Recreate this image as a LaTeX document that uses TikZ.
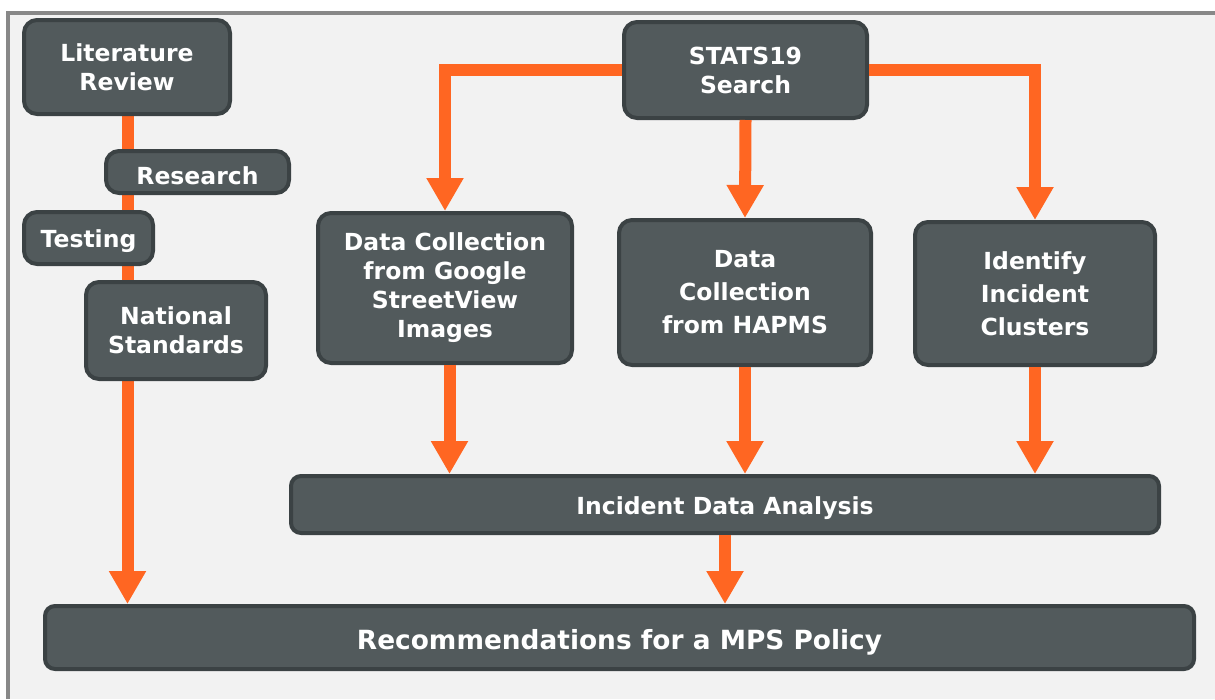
\documentclass[tikz,border=0pt]{standalone}
\usepackage{fontspec}
\setmainfont{DejaVu Sans}
\usetikzlibrary{arrows.meta,backgrounds}
\definecolor{boxfill}{HTML}{525A5C}
\definecolor{boxline}{HTML}{3B4244}
\definecolor{bgfill}{HTML}{F2F2F2}
\definecolor{frame}{HTML}{888888}
\definecolor{flow}{HTML}{FF6622}
\tikzset{
  stepbox/.style={draw=boxline, fill=boxfill, line width=4pt, rounded corners=13pt,
    text=white, font=\bfseries\fontsize{23.5}{29}\selectfont, align=center, inner sep=0pt},
  onelinebox/.style={stepbox, execute at begin node={\rule{0pt}{#1}}},
  flowline/.style={draw=flow, line width=12pt},
  flowarrow/.style={flowline, -{Triangle[width=35pt,length=33pt]}},
}
\begin{document}
\begin{tikzpicture}[x=1pt,y=-1pt]
\useasboundingbox (0,0) rectangle (1215,699);
\begin{pgfonlayer}{background}
\fill[white] (0,0) rectangle (1215,699);
\fill[bgfill] (8,13) rectangle (1215,699);
\draw[frame, line width=4pt] (8,699) -- (8,13) -- (1215,13);
\end{pgfonlayer}

\node[stepbox, minimum width=206pt, minimum height=94pt] (lit) at (127,67) {Literature\\Review};
\node[onelinebox=25pt, minimum width=183pt, minimum height=42pt] (res) at (197.5,172) {Research};
\node[onelinebox=25pt, minimum width=129pt, minimum height=52pt] (test) at (88.5,238) {Testing};
\node[stepbox, minimum width=180pt, minimum height=97pt] (nat) at (176,330.5) {National\\Standards};
\node[stepbox, minimum width=243pt, minimum height=96pt] (stats) at (745.5,70) {STATS19\\Search};
\node[stepbox, minimum width=254pt, minimum height=150pt] (google) at (445,288) {Data Collection\\from Google\\StreetView\\Images};
\node[stepbox, minimum width=252pt, minimum height=145pt, font=\bfseries\fontsize{23.5}{33}\selectfont] (hapms) at (745,292.5) {Data\\Collection\\from HAPMS};
\node[stepbox, minimum width=240pt, minimum height=143pt, font=\bfseries\fontsize{23.5}{33}\selectfont] (ident) at (1035,293.5) {Identify\\Incident\\Clusters};
\node[onelinebox=26pt, minimum width=868pt, minimum height=57pt, rounded corners=10pt] (ida) at (725,504.5) {Incident Data Analysis};
\node[onelinebox=29pt, minimum width=1149pt, minimum height=63pt, rounded corners=10pt, font=\bfseries\fontsize{26.4}{30}\selectfont] (rec) at (619.5,637.5) {Recommendations for a MPS Policy};

\begin{pgfonlayer}{background}
\draw[flowarrow] ([xshift=0.5pt]lit.south) -- ([xshift=0.5pt]lit.south |- rec.north);
\end{pgfonlayer}
\draw[flowarrow] (stats.west) -| (google.north);
\draw[flowarrow] (stats.south) -- (hapms.north);
\draw[flowarrow] (stats.east) -| (ident.north);
\draw[flowarrow] ([xshift=4.5pt]google.south) -- ([xshift=4.5pt]google.south |- ida.north);
\draw[flowarrow] (hapms.south) -- (hapms.south |- ida.north);
\draw[flowarrow] (ident.south) -- (ident.south |- ida.north);
\draw[flowarrow] (ida.south) -- (ida.south |- rec.north);
\end{tikzpicture}
\end{document}
